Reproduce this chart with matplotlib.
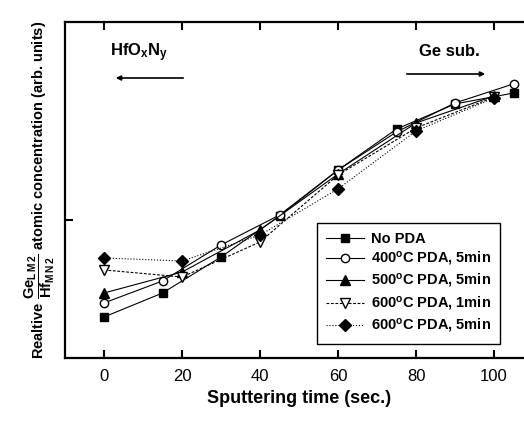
import matplotlib
matplotlib.use("Agg")
import matplotlib.pyplot as plt

plt.rcParams['font.family'] = ['Liberation Sans', 'DejaVu Sans']
plt.rcParams['mathtext.fontset'] = 'custom'
plt.rcParams['mathtext.rm'] = 'Liberation Sans'
plt.rcParams['mathtext.bf'] = 'Liberation Sans:bold'
plt.rcParams['mathtext.it'] = 'Liberation Sans:italic'

# Data (arbitrary units)
t15 = [0, 15, 30, 45, 60, 75, 90, 105]
t20 = [0, 20, 40, 60, 80, 100]
no_pda = [0.297, 0.471, 0.732, 1.029, 1.362, 1.659, 1.841, 1.920]
pda400_5 = [0.399, 0.558, 0.819, 1.036, 1.362, 1.638, 1.848, 1.986]
pda500_5 = [0.471, 0.623, 0.928, 1.333, 1.703, 1.899]
pda600_1 = [0.638, 0.587, 0.841, 1.326, 1.667, 1.891]
pda600_5 = [0.725, 0.703, 0.891, 1.225, 1.645, 1.884]
labels = ["No PDA", "400$^{\\mathbf{o}}$C PDA, 5min", "500$^{\\mathbf{o}}$C PDA, 5min",
          "600$^{\\mathbf{o}}$C PDA, 1min", "600$^{\\mathbf{o}}$C PDA, 5min"]
xticks = [0, 20, 40, 60, 80, 100]

W, H = 524, 421
fig = plt.figure(figsize=(W / 100, H / 100), dpi=100)
ax = fig.add_axes([65 / W, (H - 358) / H, (533 - 65) / W, (358 - 22) / H])

lw = 0.8
ms = 6
ax.plot(t15, no_pda, '-', color='black', lw=lw, marker='s', ms=ms, mfc='black', label=labels[0])
ax.plot(t15, pda400_5, '-', color='black', lw=lw, marker='o', ms=ms, mfc='white', label=labels[1])
ax.plot(t20, pda500_5, '-', color='black', lw=lw, marker='^', ms=ms + 1, mfc='black', label=labels[2])
ax.plot(t20, pda600_1, '--', color='black', lw=lw, marker='v', ms=ms + 1, mfc='white', dashes=(2.5, 1.5), label=labels[3])
ax.plot(t20, pda600_5, ':', color='black', lw=lw, marker='D', ms=ms, mfc='black', label=labels[4])

ax.set_xlim(-10, 110)
ax.set_ylim(0, 336 / 138)
ax.set_xticks(xticks)
ax.set_xticklabels([str(v) for v in xticks], fontsize=12)
ax.set_yticks([1.0])
ax.set_yticklabels([])
ax.tick_params(axis='both', direction='in', length=6, width=1.5, top=True, right=False)
ax.tick_params(axis='x', pad=8)
for s in ax.spines.values():
    s.set_linewidth(1.6)

ax.set_xlabel("Sputtering time (sec.)", fontsize=13, fontweight='bold', labelpad=4)
ax.set_ylabel(r"Realtive $\mathbf{\dfrac{Ge_{L\,M\,2}}{Hf_{M\,N\,2}}}$ atomic concentration (arb. units)",
              fontsize=10.5, fontweight='bold', labelpad=2)

fig.text(110 / W, 1 - 53 / H, r"HfO$_{\mathbf{x}}$N$_{\mathbf{y}}$", fontsize=12, fontweight='bold',
         ha='left', va='center')
ax.annotate("", xy=(113 / W, 1 - 78 / H), xytext=(186 / W, 1 - 78 / H),
            xycoords='figure fraction', textcoords='figure fraction',
            arrowprops=dict(arrowstyle='-|>', color='black', lw=1.2, mutation_scale=7))
fig.text(419 / W, 1 - 51 / H, "Ge sub.", fontsize=12, fontweight='bold', ha='left', va='center')
ax.annotate("", xy=(488 / W, 1 - 74 / H), xytext=(404 / W, 1 - 74 / H),
            xycoords='figure fraction', textcoords='figure fraction',
            arrowprops=dict(arrowstyle='-|>', color='black', lw=1.2, mutation_scale=7))

leg = ax.legend(loc='upper left', bbox_to_anchor=(317 / W, 1 - 223 / H), bbox_transform=fig.transFigure,
                borderaxespad=0, fancybox=False, edgecolor='black', framealpha=1,
                prop={'weight': 'bold', 'size': 10.5}, handlelength=2.6, labelspacing=0.3,
                borderpad=0.6, handletextpad=0.5)
leg.get_frame().set_linewidth(1.0)

fig.savefig("out.png", dpi=100)
